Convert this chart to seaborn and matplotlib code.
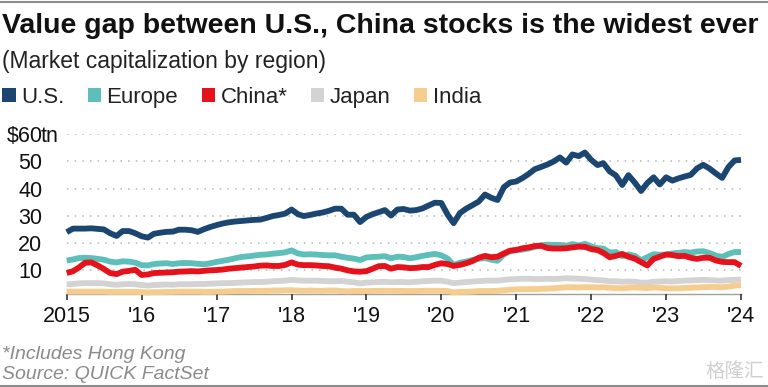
import numpy as np
import pandas as pd
import matplotlib
matplotlib.use("Agg")
import matplotlib.pyplot as plt
import matplotlib.transforms as mtransforms
from matplotlib.patches import Patch
from matplotlib.lines import Line2D
import seaborn as sns

# ---------------- data (trillion USD, monthly Jan 2015 - Jan 2024) ----------------
start_month = "2015-01-01"
n_months = 109

us = [24.0, 25.3, 25.3, 25.3, 25.4, 25.2, 25.0, 23.6, 22.6, 24.4, 24.4, 23.6,
      22.5, 22.0, 23.4, 23.8, 24.1, 24.2, 24.9, 24.9, 24.7, 24.1, 25.1, 25.9,
      26.6, 27.2, 27.6, 27.9, 28.1, 28.3, 28.5, 28.6, 29.2, 29.9, 30.3, 30.8,
      32.3, 30.6, 29.9, 30.3, 30.8, 31.2, 31.8, 32.6, 32.6, 30.4, 30.4, 27.7,
      29.6, 30.6, 31.3, 32.1, 30.1, 32.3, 32.5, 31.9, 32.1, 32.7, 33.8, 34.8,
      34.7, 30.4, 27.3, 31.0, 32.6, 33.9, 35.2, 37.8, 36.6, 35.8, 40.5, 42.2,
      42.6, 43.9, 45.3, 47.1, 47.9, 48.8, 49.9, 51.4, 49.5, 52.5, 51.9, 53.2,
      50.5, 48.6, 49.3, 46.3, 44.8, 41.3, 44.9, 42.2, 39.1, 42.0, 44.1, 41.5,
      44.1, 42.9, 43.7, 44.4, 45.0, 47.4, 48.7, 47.3, 45.5, 43.9, 47.9, 50.3,
      50.5]

europe = [13.6, 14.0, 14.5, 14.6, 14.5, 14.2, 13.9, 13.2, 12.9, 13.3, 13.2, 12.8,
          11.9, 11.8, 12.3, 12.5, 12.6, 12.3, 12.6, 12.7, 12.6, 12.4, 12.2, 12.6,
          13.1, 13.5, 13.9, 14.4, 14.9, 15.1, 15.4, 15.7, 15.8, 16.1, 16.3, 16.6,
          17.3, 16.2, 15.8, 15.9, 15.8, 15.6, 15.5, 15.5, 15.0, 14.6, 14.3, 13.8,
          14.7, 14.9, 15.0, 15.2, 14.4, 15.0, 14.9, 14.4, 14.8, 15.3, 15.7, 16.0,
          15.5, 14.3, 11.9, 12.8, 13.2, 13.8, 14.2, 14.5, 13.9, 13.5, 15.8, 17.0,
          17.4, 17.6, 18.0, 18.6, 19.2, 19.4, 19.3, 19.3, 19.0, 19.6, 19.1, 19.7,
          18.8, 18.1, 18.0, 16.5, 16.7, 15.2, 15.8, 15.3, 13.7, 14.8, 15.9, 15.7,
          15.8, 16.2, 16.4, 16.7, 16.5, 16.9, 17.0, 16.3, 15.4, 14.9, 16.0, 16.7,
          16.7]

china = [9.0, 9.7, 11.0, 12.8, 12.9, 11.8, 10.5, 9.0, 8.6, 9.5, 9.8, 10.2,
         8.3, 8.5, 9.0, 9.1, 9.2, 9.3, 9.5, 9.6, 9.7, 9.6, 9.8, 10.0,
         10.1, 10.3, 10.6, 10.8, 11.0, 11.2, 11.4, 11.7, 11.8, 11.6, 11.6, 12.0,
         12.9, 12.1, 11.9, 11.9, 11.8, 11.6, 11.5, 11.0, 10.6, 10.0, 9.6, 9.5,
         9.7, 10.6, 11.5, 11.6, 10.6, 11.2, 11.1, 10.8, 10.9, 11.2, 11.2, 12.0,
         12.6, 12.3, 11.6, 12.0, 12.6, 13.4, 14.6, 15.3, 14.8, 15.0, 16.2, 17.2,
         17.5, 18.1, 18.4, 18.9, 19.0, 18.2, 18.0, 18.0, 18.1, 18.4, 18.7, 18.6,
         17.8, 17.4, 16.4, 14.8, 15.3, 16.0, 15.0, 14.3, 13.0, 11.8, 14.2, 15.0,
         15.8, 15.6, 15.2, 15.3, 14.6, 14.2, 14.6, 14.6, 13.6, 13.1, 13.0, 13.0,
         11.6]

japan = [4.9, 5.0, 5.2, 5.3, 5.3, 5.3, 5.2, 4.9, 4.7, 4.9, 5.0, 4.9,
         4.6, 4.4, 4.6, 4.7, 4.8, 4.7, 4.9, 4.9, 4.9, 5.0, 5.0, 5.1,
         5.2, 5.3, 5.3, 5.4, 5.5, 5.6, 5.7, 5.7, 5.8, 6.0, 6.1, 6.2,
         6.5, 6.3, 6.2, 6.2, 6.2, 6.1, 6.0, 6.0, 6.1, 5.8, 5.6, 5.2,
         5.5, 5.6, 5.7, 5.8, 5.6, 5.7, 5.7, 5.6, 5.8, 6.0, 6.1, 6.2,
         6.2, 5.8, 5.3, 5.5, 5.7, 5.9, 6.0, 6.2, 6.2, 6.2, 6.5, 6.7,
         6.8, 6.9, 6.9, 6.8, 6.8, 6.9, 6.8, 6.9, 7.1, 7.0, 6.9, 6.8,
         6.6, 6.4, 6.3, 6.0, 6.0, 5.8, 5.9, 5.8, 5.5, 5.5, 5.8, 5.9,
         6.0, 5.9, 6.1, 6.2, 6.3, 6.4, 6.5, 6.4, 6.3, 6.2, 6.4, 6.5,
         6.6]

india = [2.2, 2.2, 2.2, 2.2, 2.2, 2.2, 2.2, 2.1, 2.1, 2.1, 2.1, 2.1,
         2.0, 1.9, 2.0, 2.0, 2.1, 2.1, 2.2, 2.2, 2.2, 2.2, 2.1, 2.1,
         2.2, 2.2, 2.3, 2.4, 2.4, 2.4, 2.5, 2.5, 2.5, 2.6, 2.6, 2.7,
         2.7, 2.6, 2.5, 2.6, 2.5, 2.5, 2.6, 2.6, 2.4, 2.3, 2.4, 2.4,
         2.4, 2.4, 2.5, 2.5, 2.5, 2.5, 2.4, 2.4, 2.4, 2.5, 2.5, 2.5,
         2.5, 2.4, 1.9, 2.1, 2.1, 2.2, 2.4, 2.4, 2.4, 2.5, 2.7, 2.9,
         3.0, 3.1, 3.1, 3.1, 3.2, 3.3, 3.4, 3.6, 3.8, 3.8, 3.7, 3.8,
         3.8, 3.7, 3.8, 3.6, 3.5, 3.4, 3.6, 3.7, 3.6, 3.5, 3.7, 3.6,
         3.4, 3.4, 3.4, 3.5, 3.6, 3.7, 3.8, 3.9, 3.9, 3.8, 4.0, 4.4,
         4.5]

regions = ["U.S.", "Europe", "China*", "Japan", "India"]
colors = {"U.S.": "#1c4672", "Europe": "#5cbfba", "China*": "#e5121b",
          "Japan": "#d3d3d3", "India": "#f5cd8e"}
draw_order = ["Japan", "India", "Europe", "China*", "U.S."]

year_ticks = list(range(2015, 2025))
year_labels = ["2015", "'16", "'17", "'18", "'19", "'20", "'21", "'22", "'23", "'24"]
y_ticks = [10, 20, 30, 40, 50, 60]
y_labels = ["10", "20", "30", "40", "50", "$60"]

title = "Value gap between U.S., China stocks is the widest ever"
subtitle = "(Market capitalization by region)"
footnote = "*Includes Hong Kong"
source = "Source: QUICK FactSet"

# ---------------- build long table ----------------
dates = pd.date_range(start_month, periods=n_months, freq="MS")
series = {"U.S.": us, "Europe": europe, "China*": china, "Japan": japan, "India": india}
df = pd.concat([pd.DataFrame({"date": dates, "value": v, "region": k})
                for k, v in series.items()], ignore_index=True)

# ---------------- figure ----------------
sns.set_theme(style="white")
plt.rcParams["font.family"] = ["Liberation Sans", "DejaVu Sans"]

W, H = 768, 387
fig = plt.figure(figsize=(W / 100, H / 100), dpi=100)
fig.patch.set_facecolor("white")

x0, x1 = 66.7, 741.0
y_top, y_bot = 134.0, 293.5
ax = fig.add_axes([x0 / W, (H - y_bot) / H, (x1 - x0) / W, (y_bot - y_top) / H])

sns.lineplot(data=df, x="date", y="value", hue="region", hue_order=draw_order,
             palette=colors, linewidth=4.2, legend=False, ax=ax)
for ln in ax.get_lines():
    ln.set_clip_on(False)
    ln.set_solid_capstyle("butt")
    ln.set_solid_joinstyle("round")

ax.set_xlim(pd.Timestamp("2015-01-01"), pd.Timestamp("2024-01-01"))
ax.set_ylim(1.5, 60)
ax.set_xlabel("")
ax.set_ylabel("")

ax.set_xticks([pd.Timestamp(f"{y}-01-01") for y in year_ticks])
ax.set_xticklabels(year_labels)
ax.set_yticks(y_ticks)
ax.set_yticklabels(y_labels)

ax.tick_params(axis="x", length=4, width=1.2, color="#333333", pad=5,
               labelsize=15.5, labelcolor="#111111", direction="out")
ax.tick_params(axis="y", length=0, pad=17.5, labelsize=15.5, labelcolor="#111111")
ax.xaxis.set_ticks_position("bottom")

for s in ["top", "right", "left"]:
    ax.spines[s].set_visible(False)
ax.spines["bottom"].set_color("#a0a0a0")
ax.spines["bottom"].set_linewidth(1.0)
ax.spines["bottom"].set_zorder(0.5)

ax.grid(False)
for yv in y_ticks:
    ax.axhline(yv, color="#b5b5b5", linewidth=1.1, linestyle=(0, (1, 4)), zorder=0)

# "tn" after $60
trans = mtransforms.blended_transform_factory(fig.transFigure, ax.transData)
ax.text(41.0 / W, 60, "tn", transform=trans, ha="left", va="center_baseline",
        fontsize=15.5, color="#111111")

# ---------------- titles ----------------
fig.text(2 / W, 1 - 33 / H, title, fontsize=20.5, fontweight="bold",
         color="#111111", ha="left", va="baseline")
fig.text(2 / W, 1 - 68 / H, subtitle, fontsize=16.5, color="#222222",
         ha="left", va="baseline")

# ---------------- legend ----------------
handles = [Patch(facecolor=colors[r], edgecolor="none", label=r) for r in regions]
leg = fig.legend(handles=handles, loc="upper left",
                 bbox_to_anchor=(0.0, 1 - 85 / H), ncol=5, frameon=False,
                 fontsize=16, handlelength=0.6, handleheight=0.6,
                 handletextpad=0.25, columnspacing=1.05, borderpad=0.1,
                 borderaxespad=0.0)
for t in leg.get_texts():
    t.set_color("#222222")

# ---------------- footer ----------------
fig.text(2 / W, 1 - 359 / H, footnote, fontsize=14, style="italic",
         color="#8a8a8a", ha="left", va="baseline")
fig.text(2 / W, 1 - 379 / H, source, fontsize=14, style="italic",
         color="#8a8a8a", ha="left", va="baseline")

# watermark
fig.text(764 / W, 1 - 377 / H, "格隆汇", fontsize=14, color="#cfcfcf",
         ha="right", va="baseline", family=["Noto Sans CJK SC", "DejaVu Sans"])

# frame lines at top and bottom
fig.add_artist(Line2D([0, 1], [1 - 1.5 / H, 1 - 1.5 / H], transform=fig.transFigure,
                      color="#8c8c8c", linewidth=1.5))
fig.add_artist(Line2D([0, 1], [1.5 / H, 1.5 / H], transform=fig.transFigure,
                      color="#8c8c8c", linewidth=1.5))

fig.savefig("out.png", dpi=100, facecolor="white")
